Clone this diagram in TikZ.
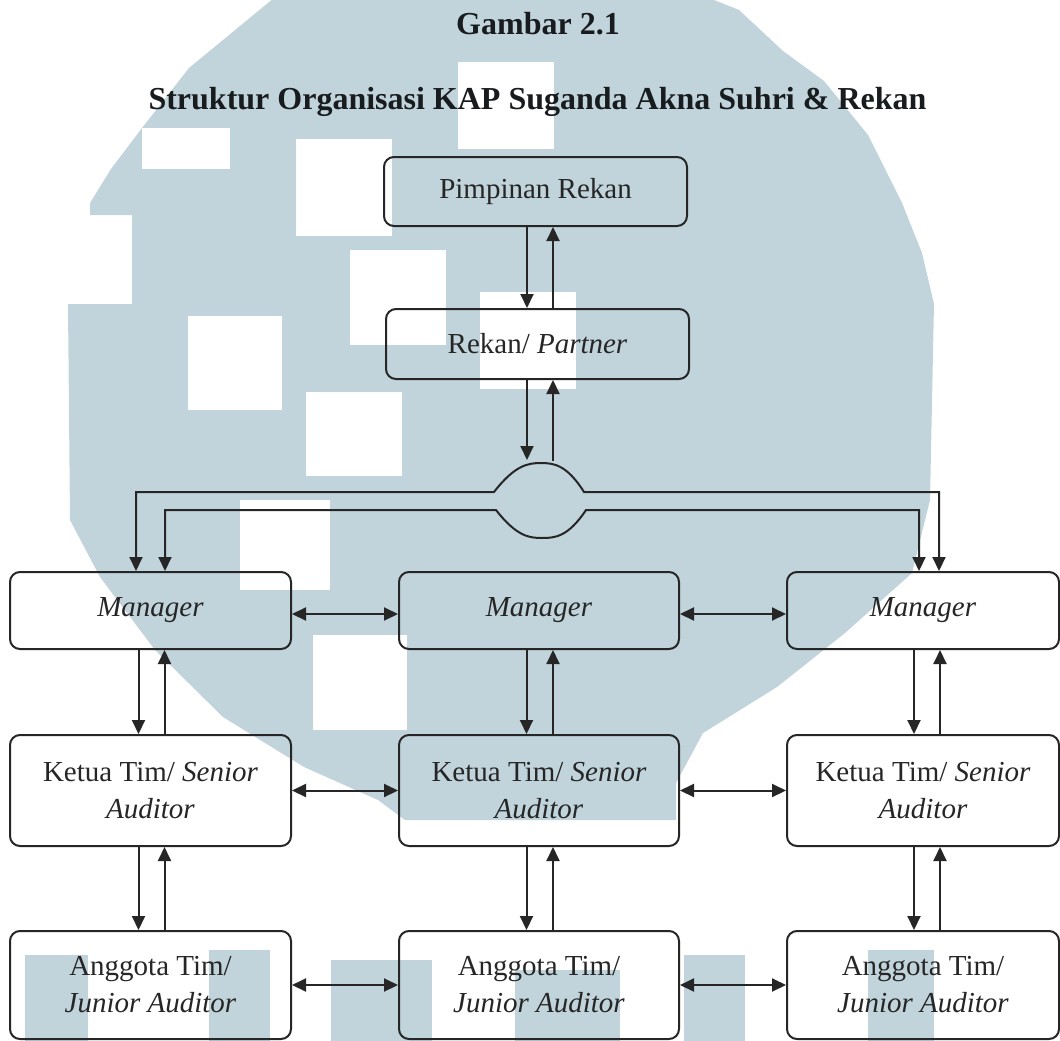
\documentclass[tikz,border=0pt]{standalone}
\usepackage{fontspec}
\setmainfont{Liberation Serif}
\usetikzlibrary{arrows.meta}
\definecolor{wm}{RGB}{193,212,219}
\definecolor{ink}{RGB}{38,38,38}
\definecolor{titleink}{RGB}{24,28,30}
\begin{document}
\begin{tikzpicture}[x=1pt,y=-1pt,
  box/.style={draw=ink, line width=2pt, rounded corners=10pt, inner sep=0pt,
    align=center, text=ink, font=\fontsize{29}{37}\selectfont},
  arr/.style={draw=ink, line width=2pt, -{Triangle[length=14pt,width=13pt]}},
  dbl/.style={draw=ink, line width=2pt,
    {Triangle[length=14pt,width=13pt]}-{Triangle[length=14pt,width=13pt]}},
  wmsq/.style={fill=white},
  titlefont/.style={font=\fontsize{32}{38}\selectfont\bfseries, text=titleink, inner sep=0pt, anchor=base}
]
\fill[white] (0,0) rectangle (1060,1041);
\useasboundingbox (0,0) rectangle (1060,1041);

% watermark (background)
\begin{scope}
\clip (0,0) rectangle (1060,1041);
\fill[wm] (274,-2) -- (189,68) -- (142,128) -- (111,169) -- (90,203) -- (90,215)
  -- (132,215) -- (132,304) -- (68,304) -- (70,520) -- (100,577) -- (155,650)
  -- (223,717) -- (304,767) -- (378,800) -- (405,820) -- (676,820) -- (676,783)
  -- (703,733) -- (777,687) -- (845,633) -- (912,573) -- (930,500) -- (934,304)
  -- (922,253) -- (902,203) -- (868,135) -- (824,81) -- (783,51) -- (739,10)
  -- (709,-2) -- cycle;
\fill[wmsq] (142,128) rectangle (230,169);
\fill[wmsq] (296,139) rectangle (392,236);
\fill[wmsq] (350,250) rectangle (446,345);
\fill[wmsq] (458,62) rectangle (554,149);
\fill[wmsq] (188,316) rectangle (282,410);
\fill[wmsq] (306,392) rectangle (402,476);
\fill[wmsq] (240,500) rectangle (330,590);
\fill[wmsq] (480,292) rectangle (576,389);
\fill[wmsq] (313,635) rectangle (407,730);
\fill[wm] (25,955) rectangle (88,1042);
\fill[wm] (209,950) rectangle (270,1042);
\fill[wm] (331,960) rectangle (432,1042);
\fill[wm] (515,970) rectangle (620,1042);
\fill[wm] (684,955) rectangle (745,1042);
\fill[wm] (868,950) rectangle (934,1042);
\end{scope}

% titles
\node[titlefont] (t1) at (538,35) {Gambar 2.1};
\node[titlefont] (t2) at (537.5,110) {Struktur Organisasi KAP Suganda Akna Suhri \& Rekan};

% boxes
\node[box, minimum width=303pt, minimum height=69pt] (pr) at (535.5,191.5) {Pimpinan Rekan};
\node[box, minimum width=303pt, minimum height=70pt] (rp) at (537.5,344) {Rekan/ \textit{Partner}};

\node[box, minimum width=281pt, minimum height=77pt] (m1) at (150.5,610.5) {\textit{Manager}};
\node[box, minimum width=280pt, minimum height=77pt] (m2) at (539,610.5) {\textit{Manager}};
\node[box, minimum width=272pt, minimum height=77pt] (m3) at (923,610.5) {\textit{Manager}};

\node[box, minimum width=281pt, minimum height=111pt] (k1) at (150.5,790.5) {Ketua Tim/ \textit{Senior}\\\textit{Auditor}};
\node[box, minimum width=280pt, minimum height=111pt] (k2) at (539,790.5) {Ketua Tim/ \textit{Senior}\\\textit{Auditor}};
\node[box, minimum width=272pt, minimum height=111pt] (k3) at (923,790.5) {Ketua Tim/ \textit{Senior}\\\textit{Auditor}};

\node[box, minimum width=281pt, minimum height=108pt] (a1) at (150.5,985) {Anggota Tim/\\\textit{Junior Auditor}};
\node[box, minimum width=280pt, minimum height=108pt] (a2) at (539,985) {Anggota Tim/\\\textit{Junior Auditor}};
\node[box, minimum width=272pt, minimum height=108pt] (a3) at (923,985) {Anggota Tim/\\\textit{Junior Auditor}};

% column x positions
\coordinate (tD) at (527,0);
\coordinate (tU) at (553,0);
\coordinate (c1D) at (138.5,0);
\coordinate (c1U) at (164.5,0);
\coordinate (c2D) at (526.5,0);
\coordinate (c2U) at (553,0);
\coordinate (c3D) at (914,0);
\coordinate (c3U) at (940,0);
\coordinate (bA) at (136,0);
\coordinate (bB) at (165,0);
\coordinate (bC) at (919,0);
\coordinate (bD) at (939,0);
\coordinate (jD) at (527,460);
\coordinate (jU) at (553,461);
\coordinate (r1) at (0,614);

% top connectors
\draw[arr] (pr.south -| tD) -- (rp.north -| tD);
\draw[arr] (rp.north -| tU) -- (pr.south -| tU);
\draw[arr] (rp.south -| tD) -- (jD);
\draw[arr] (jU) -- (rp.south -| tU);

% bus lines with crossing humps
\draw[dbl] (m1.north -| bA) |- (494,492)
  .. controls (515,465) and (528,463) .. (541,463)
  .. controls (554,463) and (567,465) .. (584,492)
  -| (m3.north -| bD);
\draw[dbl] (m1.north -| bB) |- (496,510)
  .. controls (517,537) and (530,538) .. (542,538)
  .. controls (555,538) and (568,537) .. (586,510)
  -| (m3.north -| bC);

% horizontal links
\draw[dbl] (m1.east |- r1) -- (m2.west |- r1);
\draw[dbl] (m2.east |- r1) -- (m3.west |- r1);
\draw[dbl] (k1.east) -- (k2.west);
\draw[dbl] (k2.east) -- (k3.west);
\draw[dbl] (a1.east) -- (a2.west);
\draw[dbl] (a2.east) -- (a3.west);

% vertical links
\draw[arr] (m1.south -| c1D) -- (k1.north -| c1D);
\draw[arr] (k1.north -| c1U) -- (m1.south -| c1U);
\draw[arr] (m2.south -| c2D) -- (k2.north -| c2D);
\draw[arr] (k2.north -| c2U) -- (m2.south -| c2U);
\draw[arr] (m3.south -| c3D) -- (k3.north -| c3D);
\draw[arr] (k3.north -| c3U) -- (m3.south -| c3U);

\draw[arr] (k1.south -| c1D) -- (a1.north -| c1D);
\draw[arr] (a1.north -| c1U) -- (k1.south -| c1U);
\draw[arr] (k2.south -| c2D) -- (a2.north -| c2D);
\draw[arr] (a2.north -| c2U) -- (k2.south -| c2U);
\draw[arr] (k3.south -| c3D) -- (a3.north -| c3D);
\draw[arr] (a3.north -| c3U) -- (k3.south -| c3U);
\end{tikzpicture}
\end{document}
